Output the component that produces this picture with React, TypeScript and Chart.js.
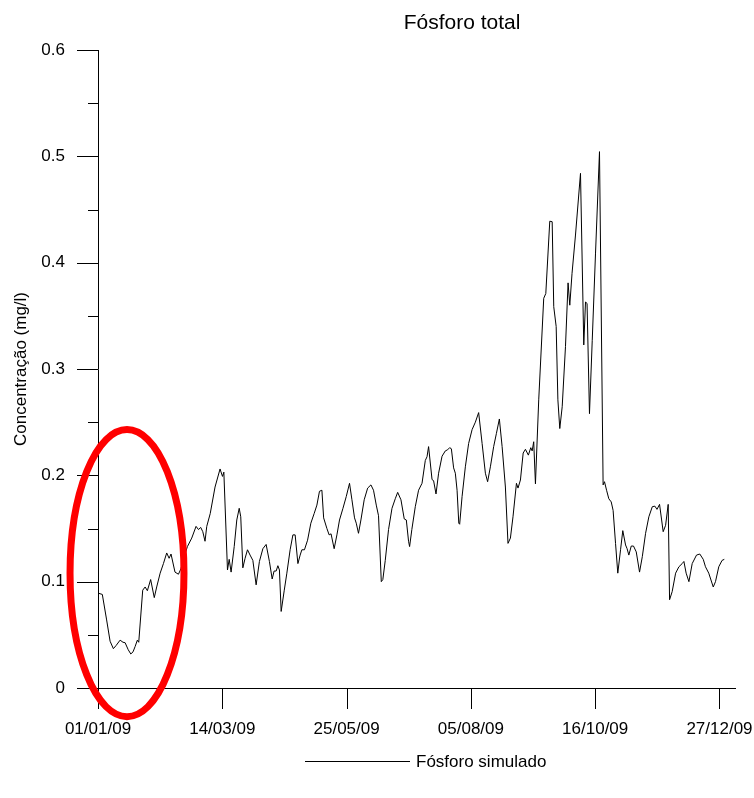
import React, { useEffect, useRef } from 'react';
import { Chart, registerables } from 'chart.js';

Chart.register(...registerables);

const chartTitle = 'Fósforo total';
const yAxisTitle = 'Concentração (mg/l)';
const seriesName = 'Fósforo simulado';

const xTickDays = [0, 72, 144, 216, 288, 360];
const xTickLabels = ['01/01/09', '14/03/09', '25/05/09', '05/08/09', '16/10/09', '27/12/09'];
const yMajorTicks = [0, 0.1, 0.2, 0.3, 0.4, 0.5, 0.6];
const yMinorTicks = [0.05, 0.15, 0.25, 0.35, 0.45, 0.55];

// day of year (0 = 01/01/09)
const simDays = [
  0.5, 2.5, 5, 7, 8.9, 10.5, 12.8, 14.5, 15.7, 17.5, 19, 20.3, 21.5, 22.8, 23.6,
  25.9, 27.3, 28.6, 30.5, 32.6, 34, 36, 37.9, 39.8, 41.2, 42.3, 44.6, 46.6, 48, 50,
  51.8, 54.3, 56.8, 58.2, 59.5, 60.7, 62, 63, 65, 67.8, 70.7, 72.1, 72.9, 75, 76,
  77.1, 78.9, 80.4, 81.8, 82.7, 83.9, 85.2, 86.6, 88.1, 89.7, 91.6, 93.5, 95.5, 97.4,
  99.3, 100.9, 102, 103.2, 104.2, 105.1, 106.1, 107.9, 109.4, 111.3, 112.9, 114.2,
  115.8, 117.1, 118.1, 119.6, 121.4, 123.3, 125.2, 126.8, 128.3, 129.7, 130.7, 132.6,
  133.9, 135, 136.8, 138.4, 139.9, 141.9, 143.8, 145.7, 147.1, 148.6, 149.6, 150.9,
  152.3, 154.2, 156.2, 158.1, 159.6, 161.2, 162.5, 164.1, 165, 166.4, 168.3, 170.3,
  172.2, 173.6, 175.5, 177.4, 178.6, 179.9, 180.5, 181.8, 183.8, 185.7, 187.7, 189.6,
  190.6, 191.5, 193.5, 194.4, 195.8, 197.3, 199.3, 201.2, 202.5, 203.7, 204.7, 206,
  207, 208, 209, 209.5, 210.9, 212.8, 214.7, 216.7, 218.6, 220.5, 222.5, 224.4, 225.7,
  227.3, 229.2, 230.8, 232.5, 234.1, 236, 237.5, 238.9, 240.4, 242.4, 243.3, 244.7,
  246.3, 247.6, 249.3, 250.7, 251.5, 252.4, 253.4, 255.3, 258.2, 259.4, 261.7, 263.1,
  264, 265.4, 266.4, 267.5, 268.9, 270.8, 272.3, 273.3, 274.6, 276.6, 279.5, 281.4,
  282.4, 283.3, 284.7, 286.3, 288.2, 290.5, 292.6, 293.4, 294.6, 295.9, 297.3, 298.4,
  299.8, 301.1, 302.7, 304, 305.6, 306.5, 307.5, 308.9, 310.2, 311.8, 313.7, 315.3,
  317.2, 319.1, 321.1, 322.6, 323.8, 325.3, 326.5, 327.4, 328.8, 330.3, 331.1, 332.6,
  334.6, 336.5, 338.4, 339.4, 340.7, 342.3, 344.2, 346.7, 348.6, 350.6, 351.9, 353.8,
  356.4, 357.7, 359.6, 361.5, 362.8,
];

// concentration (mg/l)
const simValues = [
  0.089, 0.088, 0.064, 0.044, 0.037, 0.04, 0.045, 0.043, 0.0426, 0.036, 0.032, 0.034, 0.039, 0.045, 0.043,
  0.092, 0.095, 0.0915, 0.102, 0.085, 0.095, 0.108, 0.117, 0.127, 0.122, 0.126, 0.109, 0.107, 0.112, 0.124,
  0.133, 0.141, 0.152, 0.149, 0.151, 0.147, 0.138, 0.152, 0.164, 0.189, 0.206, 0.199, 0.203, 0.111, 0.121,
  0.109, 0.133, 0.158, 0.169, 0.161, 0.113, 0.122, 0.13, 0.125, 0.12, 0.097, 0.119, 0.131, 0.135,
  0.119, 0.1025, 0.11, 0.11, 0.115, 0.111, 0.072, 0.092, 0.108, 0.13, 0.144, 0.144,
  0.117, 0.125, 0.13, 0.13, 0.139, 0.155, 0.164, 0.172, 0.185, 0.186, 0.16, 0.15,
  0.144, 0.145, 0.131, 0.144, 0.158, 0.169, 0.18, 0.1925, 0.177, 0.16, 0.155, 0.1455,
  0.158, 0.177, 0.188, 0.191, 0.186, 0.172, 0.162, 0.1, 0.102, 0.12, 0.149, 0.169,
  0.178, 0.184, 0.177, 0.159, 0.158, 0.138, 0.133, 0.149, 0.1705, 0.186, 0.1925, 0.214,
  0.2175, 0.227, 0.196, 0.195, 0.1825, 0.202, 0.218, 0.223, 0.224, 0.226, 0.225, 0.207,
  0.202, 0.186, 0.155, 0.154, 0.18, 0.208, 0.23, 0.243, 0.25, 0.259, 0.23, 0.202, 0.194,
  0.208, 0.227, 0.2395, 0.253, 0.227, 0.189, 0.136, 0.141, 0.161, 0.1925, 0.188, 0.1956,
  0.221, 0.2245, 0.219, 0.226, 0.223, 0.2316, 0.192, 0.271, 0.3665, 0.371, 0.439, 0.4385,
  0.3586, 0.34, 0.271, 0.244, 0.2645, 0.321, 0.381, 0.36, 0.39, 0.426, 0.484, 0.3226,
  0.363, 0.3617, 0.258, 0.327, 0.409, 0.5044, 0.191, 0.194, 0.186, 0.178, 0.175, 0.167,
  0.136, 0.108, 0.13, 0.148, 0.1345, 0.131, 0.125, 0.1335, 0.1335, 0.128, 0.109, 0.1235,
  0.1455, 0.161, 0.1705, 0.171, 0.168, 0.1727, 0.158, 0.147, 0.153, 0.1727, 0.083, 0.0906,
  0.108, 0.114, 0.117, 0.119, 0.108, 0.1, 0.117, 0.125, 0.126, 0.121, 0.114, 0.108,
  0.095, 0.1, 0.114, 0.12, 0.121,
];

// red highlight ellipse, in data units
const highlightCenterDay = 16.8;
const highlightCenterValue = 0.108;
const highlightHalfDays = 33;
const highlightHalfValue = 0.135;

const FONT = '"Liberation Sans", Arial, Helvetica, sans-serif';

const decorPlugin = {
  id: 'decor',
  afterDraw(chart: any) {
    const { ctx, chartArea, scales } = chart;
    const x = scales.x;
    const y = scales.y;
    ctx.save();

    // tick marks
    ctx.strokeStyle = '#000';
    ctx.lineWidth = 1;
    ctx.beginPath();
    yMajorTicks.forEach((v) => {
      const py = Math.round(y.getPixelForValue(v)) + 0.5;
      ctx.moveTo(chartArea.left - 21, py);
      ctx.lineTo(chartArea.left, py);
    });
    yMinorTicks.forEach((v) => {
      const py = Math.round(y.getPixelForValue(v)) + 0.5;
      ctx.moveTo(chartArea.left - 10, py);
      ctx.lineTo(chartArea.left, py);
    });
    xTickDays.forEach((d) => {
      const px = Math.round(x.getPixelForValue(d)) + 0.5;
      ctx.moveTo(px, chartArea.bottom);
      ctx.lineTo(px, chartArea.bottom + 21);
    });
    ctx.stroke();

    // highlight ellipse
    const cx = x.getPixelForValue(highlightCenterDay);
    const cy = y.getPixelForValue(highlightCenterValue);
    const rx = x.getPixelForValue(highlightCenterDay + highlightHalfDays) - cx;
    const ry = cy - y.getPixelForValue(highlightCenterValue + highlightHalfValue);
    ctx.beginPath();
    ctx.ellipse(cx, cy, rx, ry, 0, 0, Math.PI * 2);
    ctx.strokeStyle = '#ff0000';
    ctx.lineWidth = 7;
    ctx.stroke();

    // title
    ctx.fillStyle = '#000';
    ctx.font = `21px ${FONT}`;
    ctx.textAlign = 'center';
    ctx.textBaseline = 'middle';
    ctx.fillText(chartTitle, 462, 23);

    // legend
    ctx.beginPath();
    ctx.strokeStyle = '#000';
    ctx.lineWidth = 1;
    ctx.moveTo(305, 761.5);
    ctx.lineTo(410, 761.5);
    ctx.stroke();
    ctx.font = `17px ${FONT}`;
    ctx.textAlign = 'left';
    ctx.fillText(seriesName, 416, 762);

    ctx.restore();
  },
};

export default function App() {
  const canvasRef = useRef<HTMLCanvasElement | null>(null);

  useEffect(() => {
    document.body.style.margin = '0';
    const canvas = canvasRef.current;
    if (!canvas) return;
    const points = simDays.map((d, i) => ({ x: d, y: simValues[i] }));
    const chart = new Chart(canvas, {
      type: 'line',
      data: {
        datasets: [
          {
            label: seriesName,
            data: points,
            borderColor: '#000',
            borderWidth: 1,
            pointRadius: 0,
            tension: 0,
            fill: false,
          },
        ],
      },
      options: {
        animation: false,
        responsive: false,
        devicePixelRatio: 1,
        layout: { padding: { top: 50, right: 19, bottom: 0, left: 0 } },
        plugins: {
          legend: { display: false },
          title: { display: false },
          tooltip: { enabled: false },
        },
        scales: {
          x: {
            type: 'linear',
            min: 0,
            max: 369,
            afterBuildTicks: (s: any) => {
              s.ticks = xTickDays.map((v) => ({ value: v }));
            },
            afterFit: (s: any) => {
              s.height = 110;
              s.paddingLeft = 0;
              s.paddingRight = 0;
            },
            grid: { display: true, drawOnChartArea: false, drawTicks: false },
            border: { display: true, color: '#000', width: 1 },
            ticks: {
              autoSkip: false,
              maxRotation: 0,
              padding: 31,
              color: '#000',
              font: { family: FONT, size: 17 },
              callback: (_v: any, i: number) => xTickLabels[i] ?? '',
            },
          },
          y: {
            type: 'linear',
            min: 0,
            max: 0.6,
            afterBuildTicks: (s: any) => {
              s.ticks = yMajorTicks.map((v) => ({ value: v }));
            },
            afterFit: (s: any) => {
              s.width = 98;
              s.paddingTop = 0;
              s.paddingBottom = 0;
            },
            grid: { display: true, drawOnChartArea: false, drawTicks: false },
            border: { display: true, color: '#000', width: 1 },
            ticks: {
              padding: 33,
              color: '#000',
              font: { family: FONT, size: 17 },
              callback: (v: any) => String(Number(Number(v).toFixed(2))),
            },
            title: {
              display: true,
              text: yAxisTitle,
              color: '#000',
              font: { family: FONT, size: 17 },
              padding: { top: 11, bottom: 0 },
            },
          },
        },
      },
      plugins: [decorPlugin],
    });
    return () => chart.destroy();
  }, []);

  return (
    <div style={{ position: 'absolute', left: 0, top: 0, width: 754, height: 798 }}>
      <canvas ref={canvasRef} width={754} height={798} style={{ display: 'block' }} />
    </div>
  );
}
